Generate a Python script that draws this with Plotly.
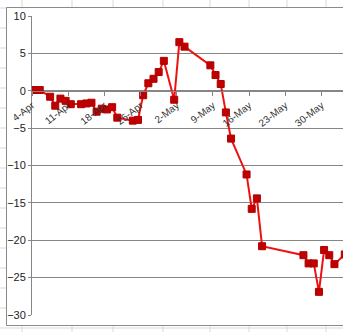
import pandas as pd
import plotly.graph_objects as go

# ---- data ----
dates = ["2011-04-04", "2011-04-05", "2011-04-07", "2011-04-08", "2011-04-09", "2011-04-10",
         "2011-04-11", "2011-04-13", "2011-04-14", "2011-04-15", "2011-04-16", "2011-04-17",
         "2011-04-18", "2011-04-19", "2011-04-20", "2011-04-23", "2011-04-24", "2011-04-25",
         "2011-04-26", "2011-04-27", "2011-04-28", "2011-04-29", "2011-05-01", "2011-05-02",
         "2011-05-03", "2011-05-08", "2011-05-09", "2011-05-10", "2011-05-11", "2011-05-12",
         "2011-05-15", "2011-05-16", "2011-05-17", "2011-05-18", "2011-05-26", "2011-05-27",
         "2011-05-28", "2011-05-29", "2011-05-30", "2011-05-31", "2011-06-01", "2011-06-03"]
values = [0.1, 0.1, -0.8, -2.0, -1.05, -1.35,
          -1.8, -1.8, -1.7, -1.6, -2.8, -2.4,
          -2.5, -2.2, -3.6, -4.0, -3.9, -0.6,
          1.0, 1.6, 2.5, 4.0, -1.2, 6.5,
          5.9, 3.4, 2.1, 0.9, -2.9, -6.4,
          -11.2, -15.8, -14.4, -20.8, -22.0, -23.1,
          -23.1, -26.9, -21.3, -22.0, -23.2, -21.9]
y_ticks = [10, 5, 0, -5, -10, -15, -20, -25, -30]
axis_start = "2011-04-04"

# ---- layout geometry ----
W, H = 343, 332
ML, MR, MT, MB = 32, 0, 16, 17
PW, PH = W - ML - MR, H - MT - MB
px_per_day = 5.17

x = pd.to_datetime(dates) + pd.Timedelta(hours=12)  # points sit in the middle of their day
x0 = pd.Timestamp(axis_start)
x1 = x0 + pd.Timedelta(days=PW / px_per_day)


def px(xp):
    return (xp - ML) / PW


def py(yp):
    return (H - MB - yp) / PH


shapes = []
grid_col = "#D9D9D9"
# spreadsheet cell lines behind the chart
for cx in [22, 72, 113, 163, 210, 249, 287, 326]:
    shapes.append(dict(type="line", xref="paper", yref="paper", x0=px(cx), x1=px(cx),
                       y0=py(-5), y1=py(H + 5), line=dict(color=grid_col, width=1), layer="below"))
for ry in range(8, H + 1, 20):
    shapes.append(dict(type="line", xref="paper", yref="paper", x0=px(-5), x1=px(W + 5),
                       y0=py(ry), y1=py(ry), line=dict(color=grid_col, width=1), layer="below"))
# chart area
shapes.append(dict(type="rect", xref="paper", yref="paper", x0=px(6.5), x1=px(W + 20),
                   y0=py(325.5), y1=py(7.5), fillcolor="white",
                   line=dict(color="#8A8A8A", width=1), layer="below"))

fig = go.Figure()
fig.add_trace(go.Scatter(
    x=x, y=values, mode="lines+markers",
    line=dict(color="#EE1111", width=2),
    marker=dict(symbol="square", size=7, color="#C00000", line=dict(color="#B00000", width=1)),
    showlegend=False,
))

fig.update_layout(
    width=W, height=H,
    margin=dict(l=ML, r=MR, t=MT, b=MB, pad=0),
    paper_bgcolor="white",
    plot_bgcolor="rgba(0,0,0,0)",
    shapes=shapes,
    font=dict(family="Liberation Sans, Arial, sans-serif", size=10, color="#222222"),
    xaxis=dict(
        type="date", range=[x0, x1],
        anchor="free", position=0.75,
        tick0=axis_start, dtick=7 * 24 * 3600 * 1000,
        tickformat="%-d-%b", tickangle=-38,
        tickfont=dict(size=10, color="#333333"),
        showgrid=False, zeroline=False,
        showline=True, linecolor="#868686", linewidth=1,
        ticks="outside", ticklen=4, tickcolor="#868686",
    ),
    yaxis=dict(
        range=[-30, 10], tickvals=y_ticks,
        tickfont=dict(size=11, color="#222222"),
        showgrid=True, gridcolor="#868686", gridwidth=1,
        zeroline=False,
        showline=True, linecolor="#868686", linewidth=1,
        ticks="outside", ticklen=3, tickcolor="#868686",
    ),
)

fig.write_html("out.html")
